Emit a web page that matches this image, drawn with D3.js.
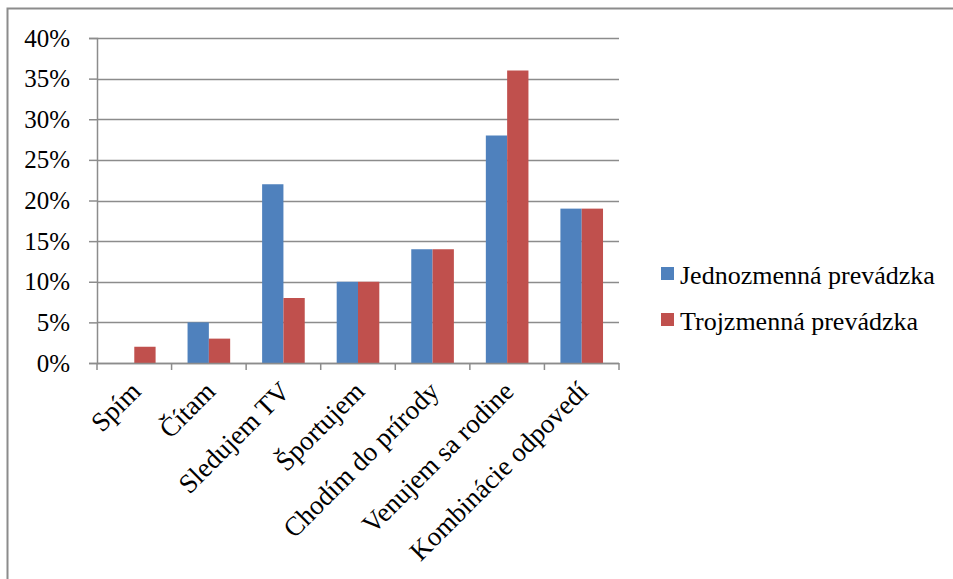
<!DOCTYPE html>
<html>
<head>
<meta charset="utf-8">
<script src="https://cdn.jsdelivr.net/npm/d3@7/dist/d3.min.js"></script>
<style>
  html, body { margin: 0; padding: 0; background: #fff; }
  svg { display: block; }
</style>
</head>
<body>
<svg id="chart" width="953" height="579"></svg>
<script>
// Activities and share of respondents per shift pattern
const categories = ["Spím", "Čítam", "Sledujem TV", "Športujem", "Chodím do prírody", "Venujem sa rodine", "Kombinácie odpovedí"];
const seriesNames = ["Jednozmenná prevádzka", "Trojzmenná prevádzka"];
const jednozmenna = [0, 5, 22, 10, 14, 28, 19];
const trojzmenna = [2, 3, 8, 10, 14, 36, 19];
const yTicks = [0, 5, 10, 15, 20, 25, 30, 35, 40];
const colors = ["#4F81BD", "#C0504D"];

const FONT = "'Liberation Serif', Tinos, 'Times New Roman', Times, serif";
const series = [jednozmenna, trojzmenna];
const svg = d3.select("#chart").style("font-family", FONT);

// outer chart frame (runs past the right and bottom edges)
svg.append("rect")
  .attr("x", 7.5).attr("y", 8.5)
  .attr("width", 1000).attr("height", 700)
  .attr("fill", "none").attr("stroke", "#8c8c8c").attr("stroke-width", 2);

const plot = { left: 97, right: 619, top: 38, bottom: 363 };

const x = d3.scaleBand().domain(categories).range([plot.left, plot.right]).paddingInner(0).paddingOuter(0);
// two bars per category, gap width 150% of a bar
const xInner = d3.scaleBand().domain([0, 1]).range([0, x.bandwidth()]).paddingOuter(0.75).paddingInner(0);
const y = d3.scaleLinear().domain([0, 40]).range([plot.bottom, plot.top]);

// horizontal gridlines
svg.append("g").selectAll("line").data(yTicks).join("line")
  .attr("x1", plot.left).attr("x2", plot.right)
  .attr("y1", d => Math.round(y(d)) + 0.5).attr("y2", d => Math.round(y(d)) + 0.5)
  .attr("stroke", "#8c8c8c").attr("stroke-width", 1.5);

// bars
const groups = svg.append("g").selectAll("g").data(categories).join("g")
  .attr("transform", d => `translate(${x(d)},0)`);
groups.selectAll("rect").data((d, i) => series.map((s, k) => ({ k, v: s[i] }))).join("rect")
  .attr("x", d => xInner(d.k))
  .attr("width", xInner.bandwidth())
  .attr("y", d => y(d.v))
  .attr("height", d => y(0) - y(d.v))
  .attr("fill", d => colors[d.k]);

// y axis
const yAxis = d3.axisLeft(y).tickValues(yTicks).tickSize(8).tickFormat(d => d + "%").tickPadding(19);
const gy = svg.append("g").attr("transform", `translate(${plot.left},0)`).call(yAxis)
  .attr("font-family", null).attr("font-size", null);
gy.select(".domain").attr("stroke", "#8c8c8c").attr("stroke-width", 1.5);
gy.selectAll(".tick line").attr("stroke", "#8c8c8c").attr("stroke-width", 1.5);
gy.selectAll(".tick text").style("font-family", FONT).style("font-size", "25px").attr("fill", "#000");

// x axis with tick marks on category boundaries
const xTickPos = categories.map(c => x(c)).concat([plot.right]);
const gx = svg.append("g");
gx.append("line").attr("x1", plot.left).attr("x2", plot.right)
  .attr("y1", plot.bottom + 0.5).attr("y2", plot.bottom + 0.5)
  .attr("stroke", "#8c8c8c").attr("stroke-width", 1.5);
gx.selectAll("line.t").data(xTickPos).join("line").attr("class", "t")
  .attr("x1", d => d).attr("x2", d => d)
  .attr("y1", plot.bottom).attr("y2", plot.bottom + 7)
  .attr("stroke", "#8c8c8c").attr("stroke-width", 1.5);
gx.selectAll("text").data(categories).join("text")
  .attr("transform", d => `translate(${x(d) + x.bandwidth() / 2 + 8},${plot.bottom + 30}) rotate(-45)`)
  .attr("text-anchor", "end")
  .style("font-family", FONT).style("font-size", "27px")
  .text(d => d);

// legend
const legend = svg.append("g").selectAll("g").data(seriesNames).join("g")
  .attr("transform", (d, i) => `translate(661,${267 + i * 46})`);
legend.append("rect").attr("width", 13).attr("height", 13).attr("fill", (d, i) => colors[i]);
legend.append("text").attr("x", 19).attr("y", 17)
  .style("font-family", FONT).style("font-size", "26px").text(d => d);
</script>
</body>
</html>
